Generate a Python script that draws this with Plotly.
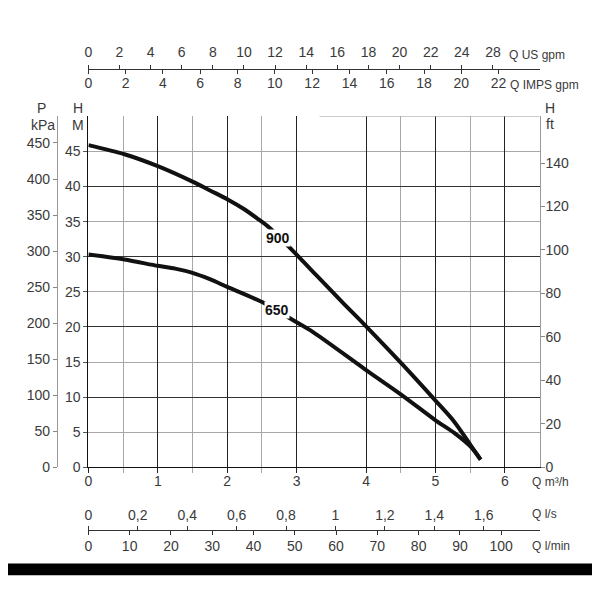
import plotly.graph_objects as go

# curve data (Q in m3/h, H in m)
q_900 = [0, 0.52, 1.0, 1.5, 1.76, 2.0, 2.24, 2.44, 2.6, 2.89, 3.3, 3.66, 3.98, 4.5, 5.0, 5.27, 5.51, 5.65]
h_900 = [45.9, 44.6, 42.9, 40.7, 39.4, 38.2, 36.8, 35.4, 34.2, 31.4, 27.2, 23.5, 20.3, 14.9, 9.5, 6.5, 3.1, 1.1]
q_650 = [0, 0.52, 1.0, 1.25, 1.5, 1.75, 2.0, 2.51, 2.89, 3.2, 3.98, 4.5, 5.0, 5.27, 5.51, 5.65]
h_650 = [30.3, 29.6, 28.7, 28.3, 27.7, 26.8, 25.7, 23.5, 21.3, 19.5, 14.0, 10.4, 6.7, 4.9, 2.9, 1.1]

# axis ticks
m3h_ticks = [0, 1, 2, 3, 4, 5, 6]
m3h_half = [0.5, 1.5, 2.5, 4.5, 5.5]
h_m_ticks = [0, 5, 10, 15, 20, 25, 30, 35, 40, 45]
kpa_ticks = [0, 50, 100, 150, 200, 250, 300, 350, 400, 450]
ft_ticks = [0, 20, 40, 60, 80, 100, 120, 140]
usgpm_ticks = [0, 2, 4, 6, 8, 10, 12, 14, 16, 18, 20, 22, 24, 26]
usgpm_text = ["0", "2", "4", "6", "8", "10", "12", "14", "16", "18", "20", "22", "24", "28"]
impgpm_ticks = [0, 2, 4, 6, 8, 10, 12, 14, 16, 18, 20, 22]
ls_ticks = [0, 0.2, 0.4, 0.6, 0.8, 1.0, 1.2, 1.4, 1.6]
ls_text = ["0", "0,2", "0,4", "0,6", "0,8", "1", "1,2", "1,4", "1,6"]
lmin_ticks = [0, 10, 20, 30, 40, 50, 60, 70, 80, 90, 100]

W = H = 600
FONT = "Liberation Sans, Arial, sans-serif"
TXT = "#3a3a3a"


# screen pixel -> paper fraction (page offset measured from a test render)
def X(t):
    return (t - 11) / 0.995 / W


def Y(t):
    return 1 - (t - 7.3) / 0.9875 / H


xdom = [X(87.5), X(539.5)]
ydom = [Y(467), Y(115.7)]
top_pos = Y(68.3)
bot_pos = Y(529.3)
tickfont = dict(family=FONT, size=14, color=TXT)

fig = go.Figure()

for q, h in [(q_900, h_900), (q_650, h_650)]:
    fig.add_trace(go.Scatter(x=q, y=h, mode="lines",
                             line=dict(color="#111", width=4, shape="spline", smoothing=0.8),
                             hoverinfo="skip", showlegend=False))

# invisible traces so that every extra axis gets drawn
dummy = dict(mode="markers", marker=dict(opacity=0), hoverinfo="skip", showlegend=False)
fig.add_trace(go.Scatter(x=usgpm_ticks, y=[0] * len(usgpm_ticks), xaxis="x2", yaxis="y", **dummy))
fig.add_trace(go.Scatter(x=impgpm_ticks, y=[0] * len(impgpm_ticks), xaxis="x3", yaxis="y", **dummy))
fig.add_trace(go.Scatter(x=ls_ticks, y=[0] * len(ls_ticks), xaxis="x4", yaxis="y", **dummy))
fig.add_trace(go.Scatter(x=lmin_ticks, y=[0] * len(lmin_ticks), xaxis="x5", yaxis="y", **dummy))
fig.add_trace(go.Scatter(x=[0] * len(kpa_ticks), y=kpa_ticks, xaxis="x", yaxis="y2", **dummy))
fig.add_trace(go.Scatter(x=[0] * len(ft_ticks), y=ft_ticks, xaxis="x", yaxis="y3", **dummy))
fig.add_trace(go.Scatter(x=[0] * len(h_m_ticks), y=h_m_ticks, xaxis="x", yaxis="y4", **dummy))

fig.update_layout(
    width=W, height=H,
    margin=dict(l=0, r=0, t=0, b=0),
    paper_bgcolor="white", plot_bgcolor="white",
    font=dict(family=FONT, size=14, color=TXT),
    xaxis=dict(domain=xdom, range=[0, 6.5], tickvals=m3h_ticks, ticks="outside", ticklen=5,
               tickcolor="#222", showline=True, linecolor="#111", linewidth=1.2,
               showgrid=True, gridcolor="#222", gridwidth=1, zeroline=False, tickfont=tickfont,
               ticklabelstandoff=-4,
               minor=dict(tickvals=m3h_half, showgrid=True, gridcolor="#a8a8a8", ticks="outside",
                          ticklen=5, tickcolor="#a8a8a8"),
               anchor="y"),
    yaxis=dict(domain=ydom, range=[0, 50], tickvals=[0, 10, 20, 30, 40], showticklabels=False,
               ticks="", showline=True, linecolor="#111", linewidth=1.2,
               showgrid=True, gridcolor="#333", zeroline=False,
               minor=dict(tickvals=[5, 15, 25, 35, 45], showgrid=True, gridcolor="#a8a8a8"),
               anchor="x"),
    yaxis4=dict(overlaying="y", domain=ydom, range=[0, 50], tickvals=h_m_ticks, ticks="outside",
                ticklen=4, tickcolor="#555", showgrid=False, zeroline=False, showline=False,
                tickfont=tickfont, side="left", anchor="x"),
    yaxis2=dict(overlaying="y", domain=ydom, range=[0, 487], tickvals=kpa_ticks, ticks="outside",
                ticklen=4, tickcolor="#888", showgrid=False, zeroline=False, showline=True,
                linecolor="#999", tickfont=tickfont, side="left", anchor="free", position=X(56)),
    yaxis3=dict(overlaying="y", domain=ydom, range=[0, 161.5], tickvals=ft_ticks, ticks="outside",
                ticklen=4, tickcolor="#888", showgrid=False, zeroline=False, showline=True,
                linecolor="#999", tickfont=tickfont, side="right", anchor="x", ticklabelstandoff=-2),
    xaxis2=dict(overlaying="x", domain=xdom, range=[0, 29], tickvals=usgpm_ticks, ticktext=usgpm_text,
                ticks="outside", ticklen=4, tickcolor="#333", showline=True, linecolor="#333",
                showgrid=False, zeroline=False, tickfont=tickfont, side="top", ticklabelstandoff=2,
                anchor="free", position=top_pos),
    xaxis3=dict(overlaying="x", domain=xdom, range=[0, 24.2], tickvals=impgpm_ticks,
                ticks="outside", ticklen=4, tickcolor="#333", showline=False,
                showgrid=False, zeroline=False, tickfont=tickfont, side="bottom", ticklabelstandoff=-3,
                anchor="free", position=top_pos),
    xaxis4=dict(overlaying="x", domain=xdom, range=[0, 1.826], tickvals=ls_ticks, ticktext=ls_text,
                ticks="outside", ticklen=4, tickcolor="#333", showline=True, linecolor="#333",
                showgrid=False, zeroline=False, tickfont=tickfont, side="top",
                anchor="free", position=bot_pos),
    xaxis5=dict(overlaying="x", domain=xdom, range=[0, 109.3], tickvals=lmin_ticks,
                ticks="outside", ticklen=4, tickcolor="#333", showline=False,
                showgrid=False, zeroline=False, tickfont=tickfont, side="bottom",
                anchor="free", position=bot_pos),
)

# partial top border and the black band at the bottom
fig.add_shape(type="line", xref="x", yref="y", x0=3.33, x1=6.5, y0=50, y1=50,
              line=dict(color="#a8a8a8", width=1))
fig.add_shape(type="rect", xref="paper", yref="paper", x0=X(5), x1=X(597), y0=Y(575), y1=Y(563.3),
              fillcolor="black", line=dict(width=0))

# curve labels
for txt, xq, yh in [("900", 2.73, 32.6), ("650", 2.71, 22.4)]:
    fig.add_annotation(x=xq, y=yh, xref="x", yref="y", text="<b>" + txt + "</b>", showarrow=False,
                       bgcolor="white", font=dict(family=FONT, size=14, color="#111"), borderpad=0)

# axis titles
titles = [
    ("P", 41, 107, "center", 14), ("kPa", 42, 124, "center", 14),
    ("H", 77, 107, "center", 14), ("M", 77, 124, "center", 14),
    ("H", 550, 107, "center", 14), ("ft", 550, 123, "center", 14),
    ("Q US gpm", 507, 54, "left", 12), ("Q IMPS gpm", 508, 84, "left", 12),
    ("Q m³/h", 530, 482, "left", 12), ("Q l/s", 530, 514, "left", 12), ("Q l/min", 530, 546, "left", 12),
]
for txt, x, y, anc, fs in titles:
    fig.add_annotation(x=X(x), y=Y(y), xref="paper", yref="paper", text=txt, showarrow=False,
                       xanchor=anc, yanchor="middle", font=dict(family=FONT, size=fs, color=TXT))

fig.write_html("out.html")
